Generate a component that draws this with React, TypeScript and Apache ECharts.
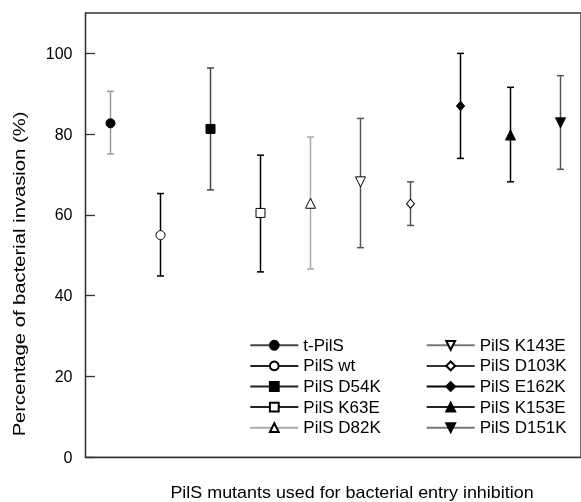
import React, { useEffect, useRef } from "react";
import * as echarts from "echarts";

const names = [
  "t-PilS", "PilS wt", "PilS D54K", "PilS K63E", "PilS D82K",
  "PilS K143E", "PilS D103K", "PilS E162K", "PilS K153E", "PilS D151K",
];
const positions = [1, 2, 3, 4, 5, 6, 7, 8, 9, 10];
const means = [82.7, 55.0, 81.3, 60.5, 62.9, 68.2, 62.8, 87.0, 79.8, 82.8];
const upper = [90.6, 65.3, 96.4, 74.8, 79.3, 83.9, 68.2, 100.0, 91.6, 94.5];
const lower = [75.1, 44.9, 66.2, 45.9, 46.6, 51.9, 57.4, 74.0, 68.2, 71.3];
const symbols = ["circle", "circle", "rect", "rect", "triangle", "triangle", "diamond", "diamond", "triangle", "triangle"];
const rotations = [0, 0, 0, 0, 0, 180, 0, 0, 0, 180];
const filled = [true, false, true, false, false, false, false, true, true, true];
const sizes: (number | number[])[] = [9, 9, 9, 9, 10, 10, [8, 9], [8, 9], 10, 10];
const barColors = ["#999999", "#000000", "#444444", "#000000", "#aaaaaa", "#555555", "#555555", "#000000", "#000000", "#555555"];
const legendLineColors = ["#444444", "#222222", "#222222", "#222222", "#aaaaaa", "#777777", "#333333", "#000000", "#222222", "#777777"];
const yTicks = [0, 20, 40, 60, 80, 100];

export default function App() {
  const ref = useRef<HTMLDivElement>(null);
  useEffect(() => {
    if (!ref.current) return;
    const chart = echarts.init(ref.current, null, { renderer: "svg" });
    const font = "Liberation Sans, Arial, sans-serif";

    const pointSeries = names.map((n, i) => ({
      name: n,
      type: "line",
      data: [[positions[i], means[i]]],
      symbol: symbols[i],
      symbolSize: sizes[i],
      symbolRotate: rotations[i],
      z: 5,
      lineStyle: { color: legendLineColors[i], width: 1.2 },
      itemStyle: {
        color: filled[i] ? "#000000" : "#ffffff",
        borderColor: "#000000",
        borderWidth: 1,
      },
      emphasis: { disabled: true },
    }));

    const errData = positions.map((p, i) => [p, lower[i], upper[i], i]);

    const errorSeries = {
      type: "custom",
      name: "err",
      z: 2,
      data: errData,
      renderItem: (params: any, api: any) => {
        const x = api.value(0);
        const lo = api.coord([x, api.value(1)]);
        const hi = api.coord([x, api.value(2)]);
        const idx = api.value(3);
        const c = barColors[idx];
        const hw = 3.5;
        const style = { stroke: c, lineWidth: 1.5 };
        return {
          type: "group",
          children: [
            { type: "line", shape: { x1: lo[0], y1: lo[1], x2: hi[0], y2: hi[1] }, style },
            { type: "line", shape: { x1: hi[0] - hw, y1: hi[1], x2: hi[0] + hw, y2: hi[1] }, style },
            { type: "line", shape: { x1: lo[0] - hw, y1: lo[1], x2: lo[0] + hw, y2: lo[1] }, style },
          ],
        };
      },
    };

    const legendCommon = {
      orient: "vertical",
      itemWidth: 48,
      itemHeight: 11,
      itemGap: 3.6,
      textStyle: { fontSize: 17, color: "#000", fontFamily: font },
      selectedMode: false,
    };

    chart.setOption({
      animation: false,
      grid: {
        left: 85.5,
        top: 13,
        right: -5,
        bottom: 44.7,
        show: true,
        borderColor: "#333333",
        borderWidth: 1.3,
      },
      xAxis: {
        type: "value",
        min: 0.5,
        max: 10.41,
        axisLine: { show: true, lineStyle: { color: "#333333", width: 1.3 } },
        axisTick: { show: false },
        axisLabel: { show: false },
        splitLine: { show: false },
      },
      yAxis: {
        type: "value",
        min: 0,
        max: 110,
        interval: 20,
        axisLine: { show: true, lineStyle: { color: "#333333", width: 1.3 } },
        axisTick: { show: true, inside: true, length: 9.5, lineStyle: { color: "#333333", width: 1.3 } },
        axisLabel: {
          margin: 13,
          fontSize: 16,
          color: "#000",
          fontFamily: font,
          showMaxLabel: false,
          formatter: (v: number) => (yTicks.includes(v) ? String(v) : ""),
        },
        splitLine: { show: false },
      },
      legend: [
        { ...legendCommon, left: 244.3, top: 331.8, data: names.slice(0, 5) },
        { ...legendCommon, left: 420.7, top: 331.8, data: names.slice(5) },
      ],
      graphic: [
        {
          type: "text",
          x: 19,
          y: 274,
          rotation: Math.PI / 2,
          scaleX: 1.19,
          style: {
            text: "Percentage of bacterial invasion (%)",
            fontSize: 17,
            fontFamily: font,
            fill: "#000",
            align: "center",
            verticalAlign: "middle",
          },
        },
        {
          type: "text",
          x: 352,
          y: 493,
          scaleX: 1.12,
          style: {
            text: "PilS mutants used for bacterial entry inhibition",
            fontSize: 16,
            fontFamily: font,
            fill: "#000",
            align: "center",
            verticalAlign: "middle",
          },
        },
      ],
      series: [errorSeries, ...pointSeries],
    });
    return () => chart.dispose();
  }, []);
  return (
    <div
      ref={ref}
      style={{ position: "fixed", left: 0, top: 0, width: 581, height: 502 }}
    />
  );
}
